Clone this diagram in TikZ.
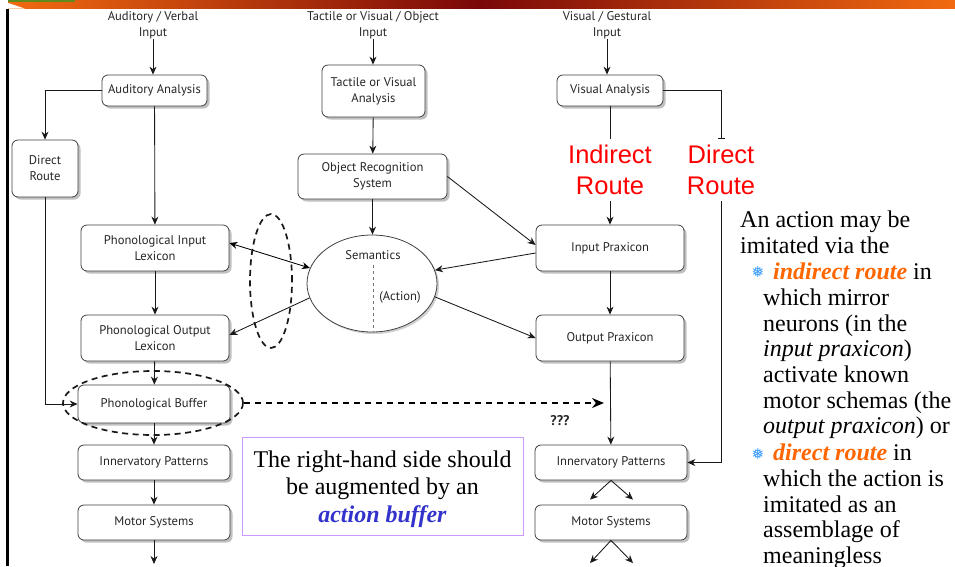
\documentclass[tikz,border=0pt]{standalone}
\usepackage{fontspec}
\setmainfont{Liberation Serif}
\newfontfamily\diagfont{PT Sans}
\newfontfamily\arialfont{Liberation Sans}
\newfontfamily\symfont{DejaVu Sans}
\usetikzlibrary{arrows.meta,shadows,shapes.geometric}
\definecolor{hdrorange}{HTML}{F26A10}
\definecolor{hdrred}{HTML}{7A0808}
\definecolor{hdrgreen}{HTML}{5E8A1E}
\definecolor{routeorange}{HTML}{FF6600}
\definecolor{bufblue}{HTML}{3333CC}
\definecolor{boxlav}{HTML}{CC99FF}
\definecolor{flake}{HTML}{3399FF}
\definecolor{diagtext}{HTML}{262626}
\begin{document}
\begin{tikzpicture}[x=1pt,y=-1pt,
  box/.style={draw=black!75, line width=0.8pt, rounded corners=6pt, fill=white, align=center, inner sep=0pt,
    text=diagtext, font=\diagfont\fontsize{12.6}{16}\selectfont,
    drop shadow={shadow xshift=2.5pt,shadow yshift=-2.5pt,fill=black!45,opacity=0.55}},
  lbl/.style={align=center, text=diagtext, font=\diagfont\fontsize{12.6}{16}\selectfont, inner sep=0pt},
  arr/.style={-{Stealth[length=8pt,width=7pt]}, line width=0.85pt, draw=black!90},
  ln/.style={line width=0.85pt, draw=black!90},
  routelbl/.style={text=red, align=center, font=\arialfont\fontsize{25.5}{31}\selectfont, inner sep=6pt},
  bodytext/.style={anchor=base west, inner sep=0pt, font=\fontsize{24}{26}\selectfont},
  flakemark/.style={inner sep=0pt, text=flake, font=\symfont\fontsize{15}{15}\selectfont},
  dashring/.style={draw=black!90, ellipse, line width=1.7pt, dash pattern=on 6pt off 4.5pt, inner sep=0pt},
]
\useasboundingbox (0,0) rectangle (955,566);
% header
\shade[left color=hdrorange, right color=hdrred] (8,0) rectangle (480,8.5);
\shade[left color=hdrred, right color=hdrorange] (480,0) rectangle (955,8.5);
\fill[hdrgreen] (8,0) rectangle (75,1.5);
\fill[white] (8,3) -- (25,8.6) -- (8,8.6) -- cycle;
\draw[line width=3pt] (7.5,9) -- (7.5,566);

% left column
\node[lbl] (avin) at (153,25) {Auditory / Verbal\\Input};
\node[box, minimum width=105, minimum height=31] (aa) at (154.5,90.5) {Auditory Analysis};
\node[box, minimum width=66, minimum height=57] (dr) at (45,168.5) {Direct\\Route};
\node[box, minimum width=148, minimum height=46] (pil) at (155,248) {Phonological Input\\Lexicon};
\node[box, minimum width=148, minimum height=46] (pol) at (155,338) {Phonological Output\\Lexicon};
\node[box, minimum width=152, minimum height=38] (pb) at (154,404) {Phonological Buffer};
\node[box, minimum width=152, minimum height=35] (ipl) at (154,462.5) {Innervatory Patterns};
\node[box, minimum width=152, minimum height=35] (msl) at (154,522.5) {Motor Systems};
\coordinate (lout) at (154,564);

% middle column
\node[lbl] (tvin) at (373,25) {Tactile or Visual / Object\\Input};
\node[box, minimum width=103, minimum height=52] (tva) at (373.5,91) {Tactile or Visual\\Analysis};
\node[box, minimum width=149, minimum height=45] (ors) at (372.5,176.5) {Object Recognition\\System};
\node[draw=black!75, line width=0.8pt, ellipse, minimum width=130, minimum height=97, inner sep=0pt, fill=white,
  drop shadow={shadow xshift=2pt,shadow yshift=-2pt,fill=black!40,opacity=0.45}] (sem) at (372,283.5) {};
\node[lbl] (semt) at (373,255) {Semantics};
\node[lbl] (act) at (400,297) {(Action)};
\coordinate (semdash) at (373,265);
\draw[dashed, line width=0.6pt, black!55] (semdash) -- (semdash |- sem.south);

% right column
\node[lbl] (vgin) at (607,25) {Visual / Gestural\\Input};
\node[box, minimum width=106, minimum height=31] (va) at (610,90.5) {Visual Analysis};
\node[box, minimum width=148, minimum height=46] (ip) at (610,248) {Input Praxicon};
\node[box, minimum width=148, minimum height=46] (op) at (610,338) {Output Praxicon};
\node[box, minimum width=152, minimum height=35] (ipr) at (611,462.5) {Innervatory Patterns};
\node[box, minimum width=152, minimum height=35] (msr) at (611,522.5) {Motor Systems};
\coordinate (rout1) at (590,563);
\coordinate (rout2) at (633,563);
\node[routelbl] (ir) at (610,170) {Indirect\\Route};
\node[routelbl] (drl) at (721,170) {Direct\\Route};

% connectors left
\draw[arr] (avin.south) -- (avin.south |- aa.north);
\draw[arr] (aa.west) -| (dr.north);
\draw[arr] (aa) -- (pil);
\draw[arr] (pil) -- (pol);
\draw[arr] (pol) -- (pb);
\draw[arr] (pb) -- (ipl);
\draw[arr] (ipl) -- (msl);
\draw[arr] (msl) -- (lout);
\draw[arr] (dr.south) |- (pb.west);

% connectors middle
\draw[arr] (tvin.south) -- (tvin.south |- tva.north);
\draw[arr] (tva) -- (ors);
\draw[arr] (ors.south) -- (ors.south |- sem.north);
\draw[arr] (ors.east) -- ([yshift=3pt]ip.west);
\draw[arr] ([yshift=-5pt]ip.west) -- (sem.12);
\draw[arr] (sem.-12) -- (op.west);
\draw[{Stealth[length=8pt,width=7pt]}-{Stealth[length=8pt,width=7pt]}, line width=0.85pt] ([yshift=5pt]pil.east) -- (sem.166);
\draw[arr] (sem.193) -- ([yshift=3pt]pol.east);

% connectors right
\draw[arr] (vgin.south) -- (vgin.south |- va.north);
\draw[ln] (va) -- (ir);
\draw[arr] (ir) -- (ip);
\draw[ln, -{Bar[width=7pt]}] (va.east) -| (drl.north);
\draw[arr] (ip) -- (op);
\draw[arr] (op) -- (ipr);
\draw[arr] (drl.south) |- (ipr.east);
\draw[arr] (ipr.south) -- ([xshift=-21pt,yshift=5pt]msr.north);
\draw[arr] (ipr.south) -- ([xshift=22pt,yshift=5pt]msr.north);
\draw[arr] (msr.south) -- (rout1);
\draw[arr] (msr.south) -- (rout2);

% dashed rings and buffer arrow
\node[dashring, minimum width=42, minimum height=134] (ring1) at (271,281) {};
\node[dashring, minimum width=180, minimum height=64] (ring2) at (153,403) {};
\coordinate (qend) at (604,403);
\draw[line width=1.7pt, dash pattern=on 6pt off 5pt, -{Stealth[length=12pt,width=10pt]}] (ring2.east) -- (qend);
\node[inner sep=0pt, text=diagtext, font=\diagfont\bfseries\fontsize{14}{15}\selectfont] (qqq) at (560,421) {???};

% note box
\node[draw=boxlav, line width=0.8pt, minimum width=281, minimum height=98, inner sep=0pt] (tb) at (382.5,486) {};
\node[align=center, inner sep=0pt, font=\fontsize{24}{27.5}\selectfont] (tbt) at (382.5,489) {The right-hand side should\\be augmented by an\\\textcolor{bufblue}{\textbf{\textit{action buffer}}}};

% right text
\node[bodytext] (t1) at (740,227) {An action may be};
\node[bodytext] (t2) at (740,253) {imitated via the};
\node[flakemark] (f1) at (758,272) {❅};
\node[bodytext] (t3) at (773,279) {\textcolor{routeorange}{\textbf{\textit{indirect route}}} in};
\node[bodytext] (t4) at (763,305) {which mirror};
\node[bodytext] (t5) at (763,331) {neurons (in the};
\node[bodytext] (t6) at (763,356) {\textit{input praxicon})};
\node[bodytext] (t7) at (763,382) {activate known};
\node[bodytext] (t8) at (763,408) {motor schemas (the};
\node[bodytext] (t9) at (763,433) {\textit{output praxicon}) or};
\node[flakemark] (f2) at (758,454) {❅};
\node[bodytext] (t10) at (773,460) {\textcolor{routeorange}{\textbf{\textit{direct route}}} in};
\node[bodytext] (t11) at (763,486) {which the action is};
\node[bodytext] (t12) at (763,512) {imitated as an};
\node[bodytext] (t13) at (763,537) {assemblage of};
\node[bodytext] (t14) at (763,563) {meaningless};
\end{tikzpicture}
\end{document}
